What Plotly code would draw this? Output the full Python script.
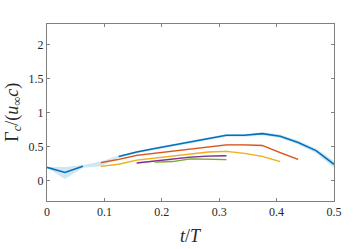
import plotly.graph_objects as go

# ---- data ----
blue_t = [0, 0.03125, 0.0625, 0.09375, 0.125, 0.15625, 0.1875, 0.21875, 0.25, 0.28125, 0.3125, 0.34375, 0.375, 0.40625, 0.4375, 0.46875, 0.5]
blue_mean = [0.195, 0.12, 0.21, None, 0.355, 0.42, 0.47, 0.52, 0.565, 0.62, 0.665, 0.665, 0.69, 0.65, 0.56, 0.44, 0.24]
blue_lo = [0.19, 0.025, 0.19, 0.21, 0.33, 0.40, 0.45, 0.50, 0.545, 0.60, 0.645, 0.645, 0.665, 0.625, 0.53, 0.40, 0.19]
blue_hi = [0.20, 0.20, 0.23, 0.28, 0.37, 0.435, 0.485, 0.535, 0.585, 0.64, 0.685, 0.685, 0.71, 0.675, 0.59, 0.47, 0.29]

orange_t = [0.09375, 0.125, 0.15625, 0.1875, 0.21875, 0.25, 0.28125, 0.3125, 0.34375, 0.375, 0.40625, 0.4375]
orange_v = [0.263, 0.31, 0.37, 0.40, 0.43, 0.46, 0.50, 0.525, 0.525, 0.515, 0.41, 0.31]

yellow_t = [0.09375, 0.125, 0.15625, 0.1875, 0.21875, 0.25, 0.28125, 0.3125, 0.34375, 0.375, 0.40625]
yellow_v = [0.21, 0.24, 0.30, 0.33, 0.37, 0.40, 0.42, 0.43, 0.40, 0.355, 0.28]

purple_t = [0.15625, 0.1875, 0.21875, 0.25, 0.28125, 0.3125]
purple_v = [0.258, 0.29, 0.32, 0.345, 0.36, 0.365]

green_t = [0.1875, 0.21875, 0.25, 0.28125, 0.3125]
green_v = [0.272, 0.28, 0.32, 0.31, 0.307]

x_ticks = [0, 0.1, 0.2, 0.3, 0.4, 0.5]
x_labels = ["0", "0.1", "0.2", "0.3", "0.4", "0.5"]
y_ticks = [0, 0.5, 1, 1.5, 2]
y_labels = ["0", "0.5", "1", "1.5", "2"]

fig = go.Figure()

def band(t, lo, hi, color):
    fig.add_trace(go.Scatter(x=t, y=hi, mode="lines", line=dict(width=0), hoverinfo="skip", showlegend=False))
    fig.add_trace(go.Scatter(x=t, y=lo, mode="lines", line=dict(width=0), fill="tonexty",
                             fillcolor=color, hoverinfo="skip", showlegend=False))

band(blue_t, blue_lo, blue_hi, "rgba(0,114,189,0.18)")

others = [
    (orange_t, orange_v, "#D95319", "rgba(217,83,25,0.18)"),
    (yellow_t, yellow_v, "#EDB120", "rgba(237,177,32,0.18)"),
    (purple_t, purple_v, "#7E2F8E", "rgba(126,47,142,0.18)"),
    (green_t, green_v, "#77AC30", "rgba(119,172,48,0.18)"),
]
for t, v, c, fc in others:
    band(t, [a - 0.012 for a in v], [a + 0.012 for a in v], fc)

for t, v, c, fc in others:
    fig.add_trace(go.Scatter(x=t, y=v, mode="lines", line=dict(color=c, width=1.3), showlegend=False))

fig.add_trace(go.Scatter(x=blue_t, y=blue_mean, mode="lines", connectgaps=False,
                         line=dict(color="#0072BD", width=1.6), showlegend=False))

axis_common = dict(showline=True, linecolor="#808080", linewidth=1, mirror="ticks",
                   ticks="inside", ticklen=3, tickcolor="#808080", showgrid=False, zeroline=False,
                   automargin=False,
                   tickfont=dict(family="Liberation Serif", size=12, color="#262626"))

title_font = dict(family="Liberation Serif", size=18, color="#262626")

fig.update_layout(
    width=359, height=249,
    margin=dict(l=47, r=25, t=24, b=48),
    paper_bgcolor="white", plot_bgcolor="white",
    xaxis=dict(range=[0, 0.5], tickvals=x_ticks, ticktext=x_labels, **axis_common),
    yaxis=dict(range=[-0.3, 2.3], tickvals=y_ticks, ticktext=y_labels, **axis_common),
    annotations=[
        dict(text="<i>t</i>/<i>T</i>", xref="paper", yref="paper", x=0.5, y=-0.2,
             xanchor="center", yanchor="middle", showarrow=False, font=title_font),
        dict(text="Γ<sub><i>c</i></sub>/(<i>u</i><sub>∞</sub><i>c</i>)", xref="paper", yref="paper",
             x=-0.118, y=0.5, xanchor="center", yanchor="middle", textangle=-90,
             showarrow=False, font=title_font),
    ],
)

fig.write_html("out.html", config={"displayModeBar": False},
               post_script="document.body.style.margin='0px';")
